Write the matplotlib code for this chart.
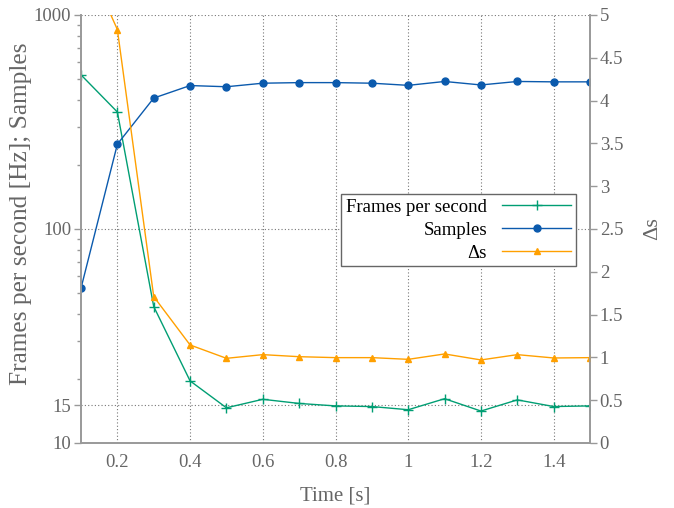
import matplotlib
matplotlib.use('Agg')
import matplotlib.pyplot as plt
from matplotlib.ticker import FixedLocator, NullFormatter, LogLocator

plt.rcParams['font.family'] = ['Liberation Serif', 'DejaVu Serif']

time = [0.1, 0.2, 0.3, 0.4, 0.5, 0.6, 0.7, 0.8, 0.9, 1.0, 1.1, 1.2, 1.3, 1.4, 1.5]
fps = [525, 352, 43.4, 19.5, 14.6, 16.0, 15.3, 14.9, 14.8, 14.3, 16.1, 14.1, 15.9, 14.8, 14.9]
samples = [52.9, 249, 409, 468, 462, 480, 483, 483, 480, 469, 489, 471, 489, 487, 487]
delta_s = [5.78, 4.83, 1.71, 1.145, 0.989, 1.032, 1.008, 0.997, 0.997, 0.977, 1.040, 0.970, 1.032, 0.993, 0.997]

left_ticks = [10, 15, 100, 1000]
right_ticks = [0, 0.5, 1, 1.5, 2, 2.5, 3, 3.5, 4, 4.5, 5]
x_ticks = [0.2, 0.4, 0.6, 0.8, 1.0, 1.2, 1.4]

green = '#009e73'
blue = '#0b5aad'
orange = '#ffa000'
gray = '#666666'

fig = plt.figure(figsize=(6.74, 5.08), dpi=100)
ax = fig.add_axes([0.1202, 0.128, 0.7552, 0.8425])
ax2 = ax.twinx()

l1, = ax.plot(time, fps, color=green, marker='+', markersize=6.5, linewidth=1, label='Frames per second')
l2, = ax.plot(time, samples, color=blue, marker='o', markersize=5, linewidth=1, label='Samples')
l3, = ax2.plot(time, delta_s, color=orange, marker='^', markersize=5, linewidth=1, label='Δs')

ax.set_yscale('log')
ax.set_ylim(10, 1000)
ax.set_xlim(0.1, 1.5)
ax.yaxis.set_major_locator(FixedLocator(left_ticks))
ax.set_yticklabels([str(t) for t in left_ticks])
ax.yaxis.set_minor_locator(LogLocator(base=10, subs=range(2, 10)))
ax.yaxis.set_minor_formatter(NullFormatter())
ax.set_xticks(x_ticks)
ax.set_xticklabels(['0.2', '0.4', '0.6', '0.8', '1', '1.2', '1.4'])

ax2.set_ylim(0, 5)
ax2.set_yticks(right_ticks)
ax2.set_yticklabels(['0', '0.5', '1', '1.5', '2', '2.5', '3', '3.5', '4', '4.5', '5'])

ax.grid(True, which='major', linestyle=(0, (1, 2)), color='#777777', linewidth=0.8)

for a in (ax, ax2):
    for side in ('left', 'right', 'bottom'):
        a.spines[side].set_color('#999999')
        a.spines[side].set_linewidth(1.2)
    a.spines['top'].set_visible(False)
    a.tick_params(axis='both', which='major', labelsize=13.5, labelcolor=gray, color='#999999', length=5, width=1, pad=2)
    a.tick_params(axis='both', which='minor', color='#999999', length=3, width=1)
ax.tick_params(axis='x', length=0, pad=8)

ax.set_xlabel('Time [s]', fontsize=15, color=gray, labelpad=11)
ax.set_ylabel('Frames per second [Hz]; Samples', fontsize=18.3, color=gray)
ax.yaxis.set_label_coords(-0.096, 0.535)
ax2.set_ylabel('Δs', fontsize=16, color=gray, labelpad=14)

leg = ax2.legend(handles=[l1, l2, l3], loc='upper right', bbox_to_anchor=(0.9725, 0.582),
                 borderaxespad=0, markerfirst=False, fontsize=13.5, fancybox=False,
                 framealpha=1, edgecolor=gray, handlelength=3.7, labelspacing=0.31,
                 borderpad=0.25)
for t in leg.get_texts():
    t.set_ha('right')
leg._legend_box.align = 'right'
leg.get_frame().set_linewidth(1)

fig.savefig('out.png', dpi=100)
